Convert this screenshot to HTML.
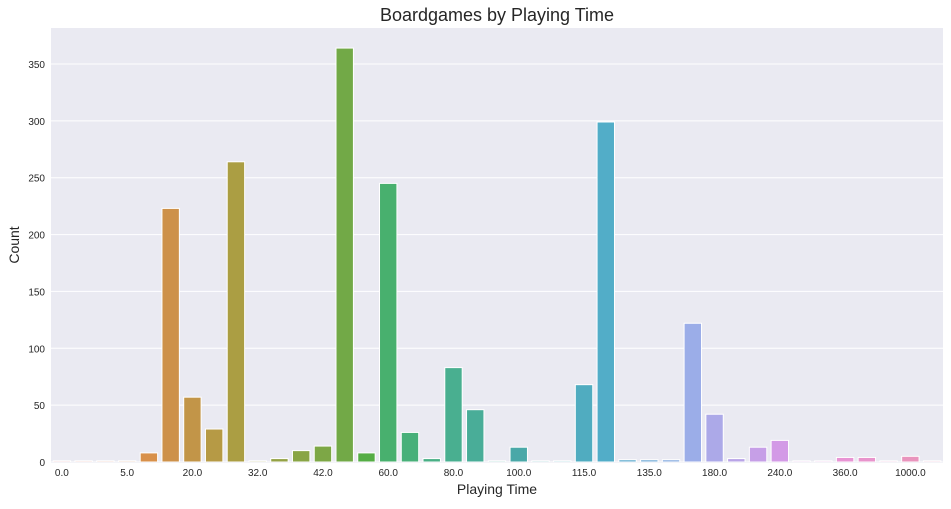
<!DOCTYPE html>
<html><head><meta charset="utf-8"><style>
body{margin:0;background:#fff;font-family:"Liberation Sans",sans-serif;}
svg text{font-family:"Liberation Sans",sans-serif;fill:#262626}
</style></head><body>
<svg width="951" height="504" xmlns="http://www.w3.org/2000/svg">
<text x="497" y="21" font-size="18" text-anchor="middle">Boardgames by Playing Time</text>
<rect x="51" y="28" width="892" height="435" fill="#eaeaf2"/>
<g id="grid"></g><g id="bars"></g><g id="yt"></g><g id="xt"></g>
<text x="497" y="494" font-size="14" text-anchor="middle">Playing Time</text>
<text transform="translate(19,245) rotate(-90)" font-size="14" text-anchor="middle">Count</text>
</svg>
<script>
const categories=["0.0","1.0","3.0","5.0","10.0","15.0","20.0","25.0","30.0","32.0","35.0","40.0","42.0","45.0","50.0","60.0","70.0","75.0","80.0","90.0","95.0","100.0","105.0","110.0","115.0","120.0","125.0","135.0","140.0","150.0","180.0","200.0","210.0","240.0","270.0","300.0","360.0","480.0","600.0","1000.0","1200.0"];
const counts=[1,1,1,1,8,223,57,29,264,1,3,10,14,364,8,245,26,3,83,46,1,13,1,1,68,299,2,2,2,122,42,3,13,19,1,1,4,4,1,5,1];
const yTicks=[0,50,100,150,200,250,300,350];
const anchors=[[0,[232,145,154]],[4,[216,144,74]],[5,[205,145,74]],[8,[171,158,67]],[13,[114,169,71]],[14,[85,173,69]],[15,[72,176,110]],[18,[73,175,144]],[21,[74,168,168]],[25,[82,173,200]],[29,[155,173,232]],[30,[172,169,232]],[33,[211,154,230]],[36,[232,148,212]],[40,[233,148,181]]];
function color(i){for(let k=0;k<anchors.length-1;k++){const[a,ca]=anchors[k],[b,cb]=anchors[k+1];if(i>=a&&i<=b){const t=(i-a)/(b-a);return`rgb(${ca.map((v,j)=>Math.round(v+(cb[j]-v)*t)).join(',')})`;}}return'#888';}
const x0=51,x1=943,yB=462,pxPer=(462-64)/350;
const bw=(x1-x0)/categories.length;
const X=i=>x0+bw*(i+0.5), Y=v=>yB-v*pxPer;
const NS="http://www.w3.org/2000/svg";
const g=document.getElementById('grid'),b=document.getElementById('bars'),yt=document.getElementById('yt'),xt=document.getElementById('xt');
yTicks.forEach(v=>{
 const l=document.createElementNS(NS,'line');l.setAttribute('x1',x0);l.setAttribute('x2',x1);l.setAttribute('y1',Y(v));l.setAttribute('y2',Y(v));l.setAttribute('stroke','#fff');l.setAttribute('stroke-width','1');
 
 
 g.appendChild(l);
 const t=document.createElementNS(NS,'text');t.setAttribute('x',45);t.setAttribute('y',Y(v)+4);t.setAttribute('font-size','10');t.setAttribute('text-anchor','end');t.textContent=v;
 
 
 yt.appendChild(t);
});
counts.forEach((c,i)=>{
 const r=document.createElementNS(NS,'rect');const w=bw*0.8;
 r.setAttribute('x',X(i)-w/2);r.setAttribute('width',w);r.setAttribute('y',Y(c));r.setAttribute('height',Math.max(yB-Y(c),0.5));
 r.setAttribute('fill',color(i));r.setAttribute('stroke','#fff');r.setAttribute('stroke-width','1');
 
 
 b.appendChild(r);
});
categories.forEach((c,i)=>{if(i%3)return;
 const t=document.createElementNS(NS,'text');t.setAttribute('x',X(i));t.setAttribute('y',476);t.setAttribute('font-size','10');t.setAttribute('text-anchor','middle');t.textContent=c;
 
 
 xt.appendChild(t);
});
</script>
</body></html>
